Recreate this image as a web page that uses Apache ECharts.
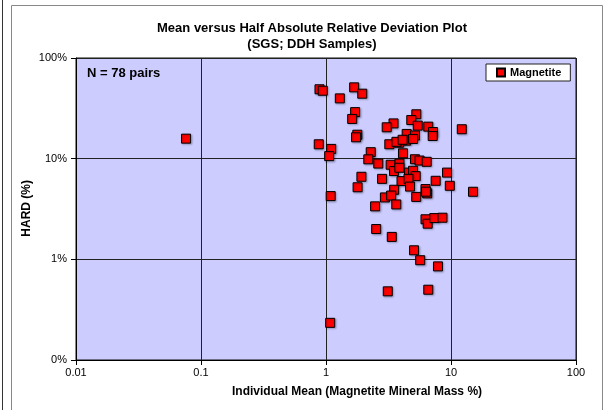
<!DOCTYPE html>
<html>
<head>
<meta charset="utf-8">
<script src="https://cdn.jsdelivr.net/npm/echarts@6/dist/echarts.min.js"></script>
<style>
	html, body { margin: 0; padding: 0; background: #fff; }
	#chart { width: 605px; height: 410px; }
</style>
</head>
<body>
<div id="chart"></div>
<script>
// individual mean (magnetite mineral mass %) and HARD (%) per pair
var meanMass = [
	0.0759, 0.887, 0.942, 1.68, 1.95, 1.29, 1.71, 1.62, 1.78, 1.74,
	0.875, 1.10, 1.06, 5.28, 4.81, 5.42, 3.47, 3.06, 6.58, 7.18,
	7.14, 12.2, 4.42, 5.15, 4.37, 4.97, 3.21, 3.84, 3.66, 2.28,
	2.18, 4.13, 2.62, 5.15, 5.60, 6.39, 3.29, 3.87, 3.50, 3.86,
	4.61, 4.97, 5.22, 9.29, 1.92, 2.81, 4.02, 4.57, 4.70, 7.54,
	1.79, 9.78, 3.51, 2.96, 3.32, 6.25, 6.45, 5.27, 15.0, 1.09,
	2.47, 3.65, 6.25, 6.51, 7.35, 8.55, 2.52, 3.36, 5.06, 5.67,
	7.87, 3.12, 6.58, 1.08, 6.30, 4.10
];
var hardPct = [
	15.8, 48.9, 47.3, 51.1, 44.2, 39.7, 29.0, 24.8, 17.3, 16.3,
	13.9, 12.5, 10.6, 27.6, 24.2, 21.3, 22.4, 20.5, 20.8, 18.4,
	16.8, 19.6, 17.6, 17.0, 15.1, 15.7, 13.9, 14.4, 14.7, 11.6,
	9.85, 11.3, 8.94, 9.87, 9.58, 9.31, 8.70, 8.94, 7.53, 8.12,
	7.27, 7.58, 6.71, 7.27, 6.61, 6.30, 5.99, 6.30, 5.28, 6.03,
	5.20, 5.38, 4.91, 4.12, 4.30, 4.99, 4.52, 4.17, 4.69, 4.25,
	3.36, 3.51, 2.50, 2.26, 2.57, 2.59, 2.00, 1.67, 1.23, 0.98,
	0.851, 0.481, 0.499, 0.234, 4.70, 15.4
];
var xTicks = [0.01, 0.1, 1, 10, 100];
var yTicks = [0.1, 1, 10, 100];

var FONT = "'Liberation Sans', Arial, sans-serif";

var points = [];
for (var i = 0; i < meanMass.length; i++) {
	points.push([meanMass[i], hardPct[i]]);
}

var chart = echarts.init(document.getElementById('chart'), null, { renderer: 'canvas' });

var option = {
	backgroundColor: '#fff',
	animation: false,
	textStyle: { fontFamily: FONT },
	title: {
		text: 'Mean versus Half Absolute Relative Deviation Plot\n(SGS; DDH Samples)',
		left: 307,
		top: 15,
		textAlign: 'center',
		textStyle: { fontFamily: FONT, fontSize: 13, fontWeight: 'bold', color: '#000', lineHeight: 16 }
	},
	legend: {
		left: 486,
		top: 64,
		orient: 'horizontal',
		backgroundColor: '#fff',
		borderColor: '#222',
		borderWidth: 1,
		padding: [3, 9, 3, 10],
		itemWidth: 8,
		itemHeight: 8,
		itemGap: 4,
		textStyle: { fontFamily: FONT, fontSize: 11, fontWeight: 'bold', color: '#000' },
		data: [{ name: 'Magnetite', icon: 'rect' }]
	},
	grid: {
		left: 76,
		top: 58,
		right: 29,
		bottom: 50,
		show: true,
		backgroundColor: '#CCCCFF',
		borderColor: '#111',
		borderWidth: 1
	},
	xAxis: {
		type: 'log',
		logBase: 10,
		min: xTicks[0],
		max: xTicks[xTicks.length - 1],
		axisLine: { show: true, lineStyle: { color: '#000', width: 1 } },
		axisTick: { show: true, inside: false, length: 5, lineStyle: { color: '#000' } },
		axisLabel: {
			margin: 7,
			fontFamily: FONT,
			fontSize: 11,
			color: '#000',
			formatter: function(v) {
				var r = Math.round(v * 100) / 100;
				return String(r);
			}
		},
		splitLine: { show: true, lineStyle: { color: '#222', width: 1 } }
	},
	yAxis: {
		type: 'log',
		logBase: 10,
		min: yTicks[0],
		max: yTicks[yTicks.length - 1],
		axisLine: { show: true, lineStyle: { color: '#000', width: 1 } },
		axisTick: { show: true, inside: false, length: 5, lineStyle: { color: '#000' } },
		axisLabel: {
			margin: 9,
			fontFamily: FONT,
			fontSize: 11,
			color: '#000',
			formatter: function(v) {
				return Math.round(v) + '%';
			}
		},
		splitLine: { show: true, lineStyle: { color: '#222', width: 1 } }
	},
	graphic: [
		// outer frame
		{ type: 'line', shape: { x1: 2.5, y1: 0, x2: 2.5, y2: 410 }, style: { stroke: '#333', lineWidth: 1 }, silent: true },
		{ type: 'rect', shape: { x: 11.5, y: 5.5, width: 591, height: 420 }, style: { fill: null, stroke: '#888', lineWidth: 1 }, silent: true },
		{
			type: 'text', left: 87, top: 67, z: 10,
			style: { text: 'N = 78 pairs', font: 'bold 13px ' + FONT, fill: '#000' }
		},
		{
			type: 'text', left: 232, top: 386, z: 10,
			style: { text: 'Individual Mean (Magnetite Mineral Mass %)', font: 'bold 12px ' + FONT, fill: '#000' }
		},
		{
			type: 'text', left: 21, top: 180, rotation: Math.PI / 2, z: 10,
			style: { text: 'HARD (%)', font: 'bold 12px ' + FONT, fill: '#000' }
		}
	],
	series: [{
		name: 'Magnetite',
		type: 'scatter',
		symbol: 'rect',
		symbolSize: 9,
		itemStyle: {
			color: '#FF0000',
			borderColor: '#000',
			borderWidth: 1,
			opacity: 1,
			shadowColor: 'rgba(0,0,0,0.25)',
			shadowBlur: 2,
			shadowOffsetX: 1,
			shadowOffsetY: 1
		},
		data: points
	}]
};

chart.setOption(option);
</script>
</body>
</html>
